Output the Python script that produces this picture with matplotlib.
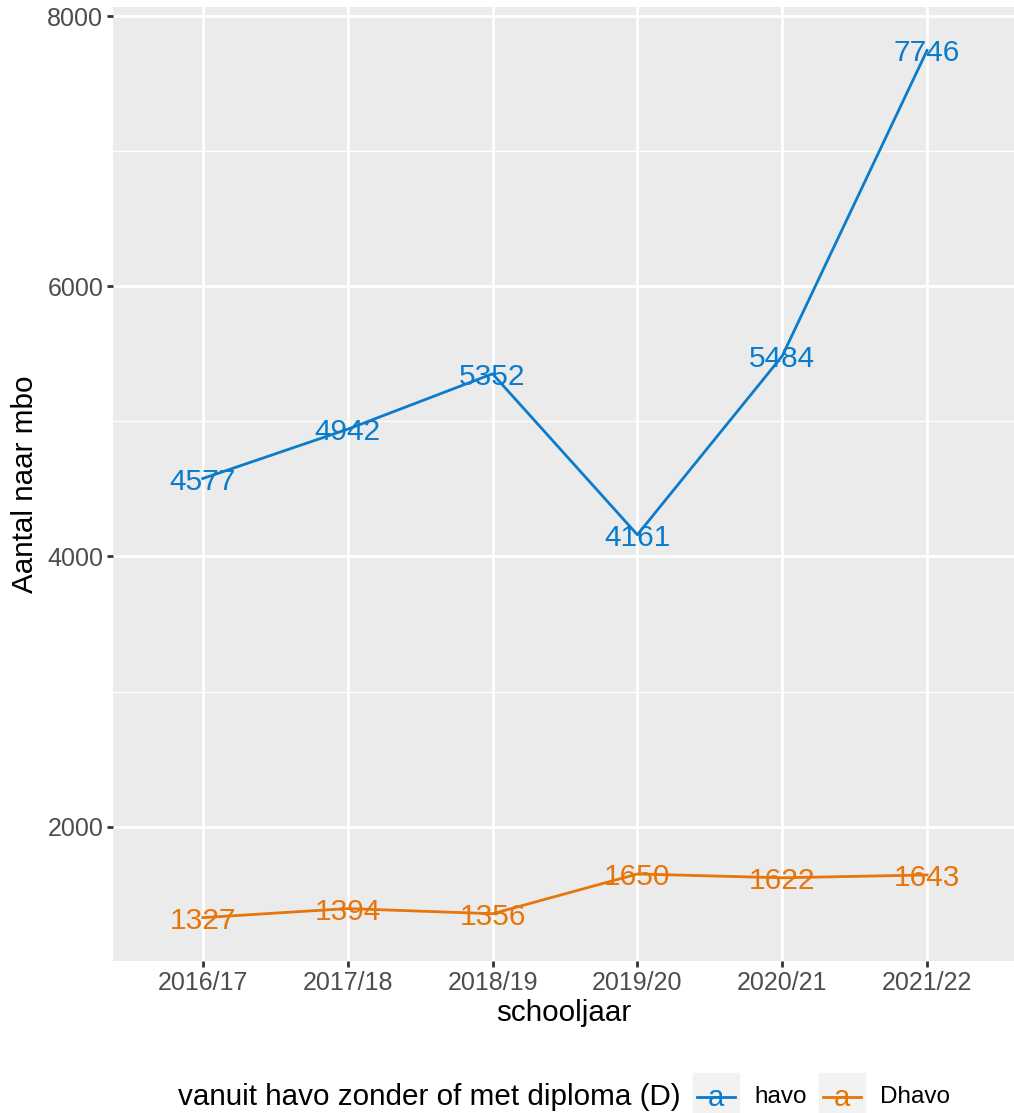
import numpy as np
import matplotlib
matplotlib.use("Agg")
from matplotlib import pyplot as plt
from matplotlib.patches import Rectangle
from matplotlib.lines import Line2D

plt.rcParams['font.family'] = ['Liberation Sans', 'DejaVu Sans']

schooljaar = ["2016/17", "2017/18", "2018/19", "2019/20", "2020/21", "2021/22"]
havo = [4577, 4942, 5352, 4161, 5484, 7746]
dhavo = [1327, 1394, 1356, 1650, 1622, 1643]
series_names = ["havo", "Dhavo"]
colors = ["#0b7bcc", "#e6750a"]

W, H = 1014, 1113
fig = plt.figure(figsize=(W / 100, H / 100), dpi=100)
ax = fig.add_axes([113 / W, 1 - 961 / H, (1014 - 113) / W, (961 - 7) / H])
ax.set_facecolor("#EBEBEB")
for s in ax.spines.values():
    s.set_visible(False)

x = np.arange(len(schooljaar))
for vals, col in zip([havo, dhavo], colors):
    ax.plot(x, vals, color=col, lw=2, zorder=3)
    for xi, v in zip(x, vals):
        ax.text(xi, v, str(v), color=col, fontsize=21.5, ha="center",
                va="center_baseline", zorder=4)

lo, hi = min(dhavo), max(havo)
pad = (hi - lo) * 0.05
ax.set_ylim(lo - pad, hi + pad)
ax.set_xlim(-0.62, len(x) - 1 + 0.6)

ax.set_xticks(x)
ax.set_xticklabels(schooljaar)
ax.set_yticks([2000, 4000, 6000, 8000])
ax.set_yticks([3000, 5000, 7000], minor=True)
ax.grid(which="major", color="white", lw=2)
ax.grid(which="minor", color="white", lw=1)
ax.set_axisbelow(True)
ax.tick_params(which="major", colors="#333333", labelcolor="#4D4D4D", labelsize=18, length=4, width=2, pad=3)
ax.tick_params(which="minor", length=0)

ax.set_xlabel("schooljaar", fontsize=21.3, labelpad=3)
ax.set_ylabel("Aantal naar mbo", fontsize=21.3, labelpad=6)

# legend at the bottom, ggplot style
ly = 1 - 1097 / H
fig.text(178 / W, ly, "vanuit havo zonder of met diploma (D)", fontsize=21.3, ha="left", va="center")
for name, col, x0 in zip(series_names, colors, [693, 819]):
    fig.patches.append(Rectangle((x0 / W, 1 - 1119 / H), 46 / W, 46 / H,
                                 transform=fig.transFigure, color="#F2F2F2", zorder=1))
    fig.lines.append(Line2D([(x0 + 4) / W, (x0 + 42) / W], [ly, ly],
                            transform=fig.transFigure, color=col, lw=2, zorder=2))
    fig.text((x0 + 23) / W, 1 - 1098 / H, "a", color=col, fontsize=21, ha="center", va="center", zorder=3)
    fig.text((x0 + 61) / W, ly, name, fontsize=17.5, ha="left", va="center")

fig.savefig("out.png", dpi=100)
